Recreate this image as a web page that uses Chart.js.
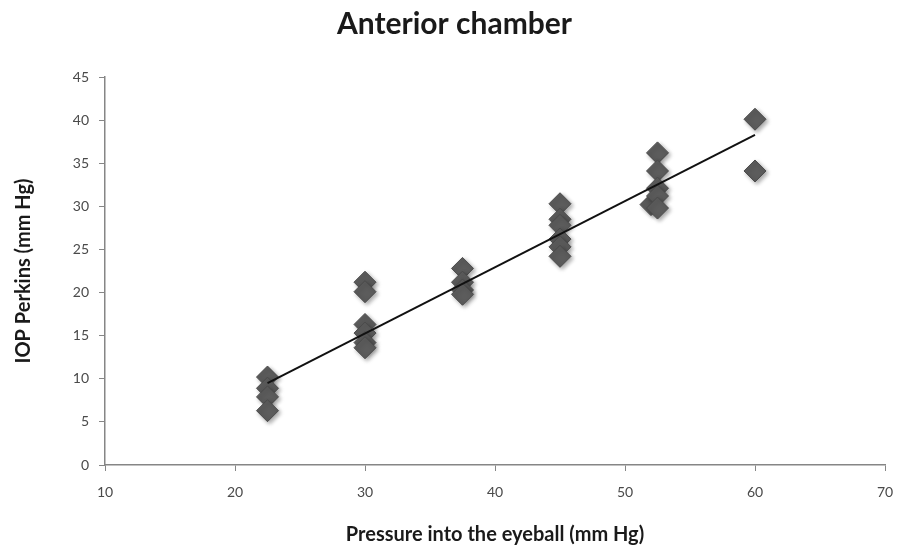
<!DOCTYPE html>
<html>
<head>
<meta charset="utf-8">
<script src="https://cdn.jsdelivr.net/npm/chart.js@4.4.1/dist/chart.umd.min.js"></script>
<style>
  html, body { margin: 0; padding: 0; background: #fff; }
  #chart { display: block; }
</style>
</head>
<body>
<canvas id="chart" width="897" height="548"></canvas>
<script>
// readings, grouped by the pressure applied into the eyeball
const pressure = [22.5, 22.5, 22.5, 22.5,
                  30, 30, 30, 30, 30, 30,
                  37.5, 37.5, 37.5, 37.5,
                  45, 45, 45, 45, 45, 45,
                  52.5, 52.5, 52, 52.5, 52.5, 52.5,
                  60, 60];
const perkins = [10.2, 8.9, 7.9, 6.3,
                 21.2, 20.1, 16.3, 15.3, 14.2, 13.6,
                 22.8, 21.2, 20.3, 19.8,
                 30.3, 28.5, 27.8, 26.2, 25.3, 24.2,
                 36.2, 34.1, 30.2, 32.1, 31.2, 29.8,
                 40.1, 34.1];

// trend line ends
const trendX = [22.5, 60];
const trendY = [9.5, 38.3];

const xTicks = [10, 20, 30, 40, 50, 60, 70];
const yTicks = [0, 5, 10, 15, 20, 25, 30, 35, 40, 45];

const font = "Lato, 'Open Sans', sans-serif";

const points = pressure.map((x, i) => ({x: x, y: perkins[i]}));
const trend = trendX.map((x, i) => ({x: x, y: trendY[i]}));

// soft drop shadow under the diamonds
const shadow = {
  id: 'shadow',
  beforeDatasetDraw(chart, args) {
    if (args.index !== 1) return;
    const ctx = chart.ctx;
    ctx.save();
    ctx.shadowColor = 'rgba(0,0,0,0.35)';
    ctx.shadowBlur = 4;
    ctx.shadowOffsetX = 2;
    ctx.shadowOffsetY = 2;
  },
  afterDatasetDraw(chart, args) {
    if (args.index !== 1) return;
    chart.ctx.restore();
  }
};

new Chart(document.getElementById('chart'), {
  type: 'scatter',
  data: {
    datasets: [
      {
        label: 'Trend',
        type: 'line',
        data: trend,
        borderColor: '#111',
        borderWidth: 2,
        pointRadius: 0,
        fill: false,
        order: 0
      },
      {
        label: 'IOP',
        data: points,
        pointStyle: 'rectRot',
        pointRadius: 11,
        pointHoverRadius: 11,
        backgroundColor: '#5c5c5c',
        borderColor: '#4a4a4a',
        borderWidth: 1,
        order: 1
      }
    ]
  },
  plugins: [shadow],
  options: {
    responsive: false,
    animation: false,
    layout: {padding: {top: 0, right: 0, bottom: 0, left: 12}},
    plugins: {
      legend: {display: false},
      tooltip: {enabled: false},
      title: {
        display: true,
        text: 'Anterior chamber',
        color: '#1a1a1a',
        font: {family: font, size: 30, weight: 'bold'},
        padding: {top: 6, bottom: 35}
      }
    },
    scales: {
      x: {
        type: 'linear',
        min: 10,
        max: 70,
        afterBuildTicks: (s) => { s.ticks = xTicks.map(v => ({value: v})); },
        afterFit: (s) => { s.height = 83; s.paddingRight = 10; s.paddingLeft = 0; },
        grid: {display: true, drawOnChartArea: false, tickLength: 6, tickColor: '#868686'},
        border: {color: '#868686', width: 1.5},
        ticks: {color: '#4a4a4a', padding: 13, font: {family: font, size: 14}},
        title: {
          display: true,
          text: 'Pressure into the eyeball (mm Hg)',
          color: '#1a1a1a',
          font: {family: font, size: 20, weight: 'bold'},
          padding: {top: 0, bottom: 1}
        }
      },
      y: {
        type: 'linear',
        min: 0,
        max: 45,
        afterBuildTicks: (s) => { s.ticks = yTicks.map(v => ({value: v})); },
        afterFit: (s) => { s.width = 93; },
        grid: {display: true, drawOnChartArea: false, tickLength: 6, tickColor: '#868686'},
        border: {color: '#868686', width: 1.5},
        ticks: {color: '#4a4a4a', padding: 10, font: {family: font, size: 14}},
        title: {
          display: true,
          text: 'IOP Perkins (mm Hg)',
          color: '#1a1a1a',
          font: {family: font, size: 20, weight: 'bold'},
          padding: {top: 0, bottom: 0}
        }
      }
    }
  }
});
</script>
</body>
</html>
